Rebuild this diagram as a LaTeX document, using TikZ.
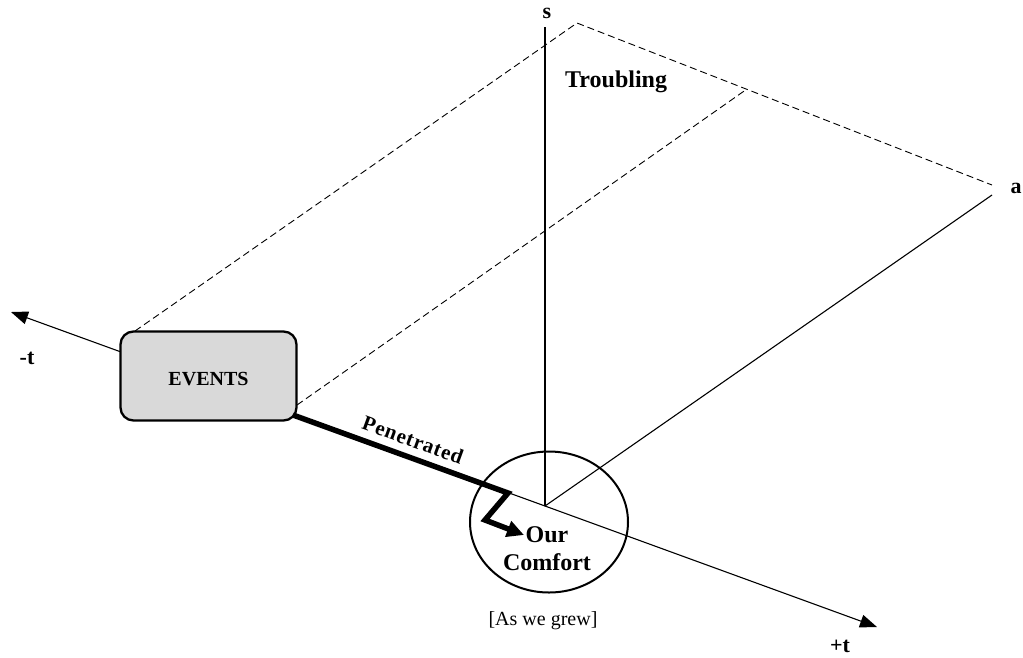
\documentclass[tikz,border=0pt]{standalone}
\usepackage{fontspec}
\setmainfont{Liberation Serif}
\usetikzlibrary{arrows.meta,shapes.geometric}
\definecolor{boxgray}{RGB}{217,217,217}
\begin{document}
\begin{tikzpicture}[x=1pt,y=-1pt,
  axis/.style={line width=1.1pt},
  axisarrow/.style={axis,-{Triangle[length=17pt,width=13pt]}},
  plane/.style={line width=0.9pt,dash pattern=on 7pt off 4pt},
  lbl/.style={font=\bfseries\fontsize{22}{26}\selectfont,inner sep=0pt,anchor=base},
  boxlbl/.style={font=\bfseries\fontsize{20}{24}\selectfont,inner sep=0pt,anchor=base},
  biglbl/.style={font=\bfseries\fontsize{24}{28}\selectfont,inner sep=0pt,anchor=base},
  note/.style={font=\fontsize{20}{24}\selectfont,inner sep=0pt,anchor=base},
  eventbox/.style={draw,line width=2.3pt,fill=boxgray,rounded corners=13pt,
    minimum width=176pt,minimum height=89pt,inner sep=0pt},
  comfortring/.style={draw,ellipse,line width=2pt,minimum width=158pt,
    minimum height=141pt,inner sep=0pt},
  push/.style={line width=5.5pt,line join=miter,
    -{Triangle[length=17pt,width=16pt]}}
]
\useasboundingbox (0,0) rectangle (1023,657);

% axes meeting at the origin
\coordinate (O) at (545,506);
\coordinate (stop) at (545,27);
\coordinate (aend) at (992,195);
\coordinate (tminus) at (11,312);
\coordinate (tplus) at (877,627);

% dashed plane
\coordinate (apex) at (577,23);
\coordinate (mid) at (747,89);
\coordinate (farend) at (992,185);
\coordinate (boxtl) at (135,331);
\coordinate (boxr) at (297,405);

\node[comfortring] (ring) at (549,522) {};

\draw[axis] (O) -- (stop);
\draw[axis] (O) -- (aend);
\draw[axisarrow] (O) -- (tminus);
\draw[axisarrow] (O) -- (tplus);

\draw[plane] (boxtl) -- (apex) -- (farend);
\draw[plane] (boxr) -- (mid);

\node[eventbox] (events) at (208.5,376) {};
\node[boxlbl] (eventstxt) at (208.5,385) {EVENTS};

% penetrating path into the comfort zone
\coordinate (pstart) at (293,415);
\coordinate (pbend) at (508,493);
\coordinate (pdown) at (485,520);
\coordinate (ptip) at (524,535);
\draw[push] (pstart) -- (pbend) -- (pdown) -- (ptip);
\node[font=\bfseries\fontsize{21}{24}\selectfont\addfontfeatures{LetterSpace=4},
  inner sep=0pt,rotate=-20] (pen) at (413,440) {Penetrated};

% labels
\node[lbl] (slbl) at (547,18) {s};
\node[lbl] (albl) at (1016,193) {a};
\node[lbl] (tmlbl) at (27,364) {-t};
\node[lbl] (tplbl) at (840,652) {+t};
\node[biglbl,anchor=base west] (troub) at (565,87) {Troubling};
\node[biglbl] (our) at (547,542) {Our};
\node[biglbl] (comf) at (547,570) {Comfort};
\node[note] (grew) at (543,625) {[As we grew]};
\end{tikzpicture}
\end{document}
